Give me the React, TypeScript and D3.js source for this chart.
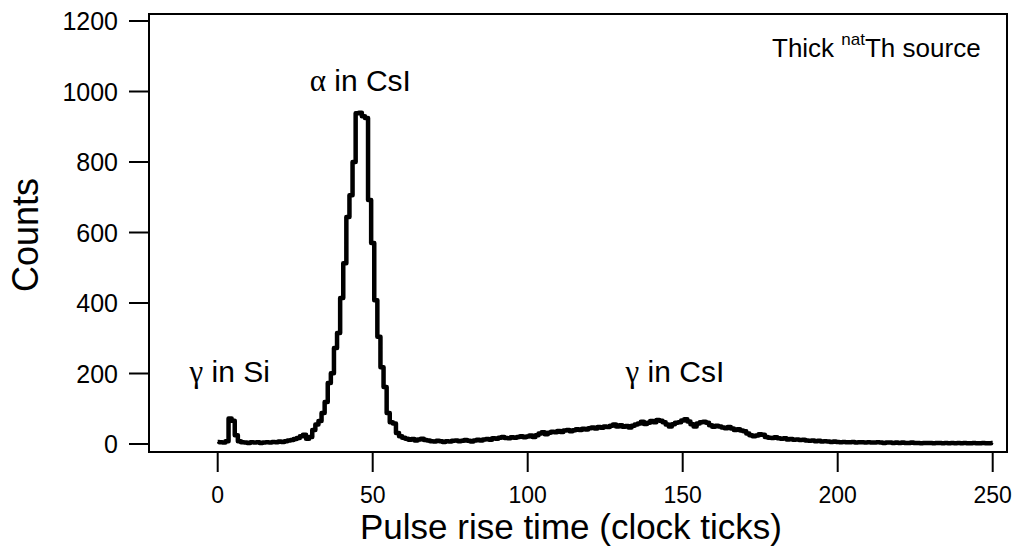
import React from "react";
import * as d3 from "d3";

// Pulse rise time bins (clock ticks), one per tick, 0..250
const counts: number[] = [
  // 0-9
  6, 5, 4, 8, 72, 66, 25, 8, 5, 4,
  // 10-19
  3, 5, 4, 5, 3, 4, 5, 4, 6, 5,
  // 20-29
  7, 6, 8, 10, 11, 14, 17, 22, 26, 15,
  // 30-39
  20, 40, 55, 65, 88, 119, 173, 201, 272, 315,
  // 40-49
  414, 513, 644, 706, 800, 938, 940, 930, 925, 692,
  // 50-59
  570, 408, 304, 218, 162, 88, 62, 58, 31, 22,
  // 60-69
  18, 15, 12, 14, 10, 13, 15, 11, 10, 8,
  // 70-79
  7, 9, 8, 6, 8, 7, 9, 10, 8, 9,
  // 80-89
  11, 9, 7, 10, 12, 10, 13, 14, 12, 16,
  // 90-99
  15, 18, 20, 17, 16, 19, 18, 20, 22, 19,
  // 100-109
  21, 24, 20, 25, 30, 33, 28, 32, 35, 33,
  // 110-119
  37, 34, 38, 40, 36, 39, 42, 40, 43, 41,
  // 120-129
  45, 47, 44, 48, 46, 50, 48, 52, 55, 50,
  // 130-139
  53, 49, 51, 47, 52, 55, 58, 63, 57, 60,
  // 140-149
  65, 62, 68, 66, 62, 55, 50, 56, 60, 62,
  // 150-159
  67, 70, 64, 56, 50, 58, 62, 63, 60, 53,
  // 160-169
  49, 52, 50, 47, 45, 48, 44, 40, 42, 38,
  // 170-179
  36, 30, 25, 22, 24, 28, 26, 20, 18, 17,
  // 180-189
  19, 16, 15, 16, 13, 14, 12, 13, 11, 12,
  // 190-199
  10, 9, 10, 8, 9, 7, 8, 7, 6, 7,
  // 200-209
  6, 5, 6, 5, 5, 6, 4, 5, 5, 4,
  // 210-219
  5, 4, 4, 5, 4, 3, 4, 4, 3, 4,
  // 220-229
  3, 4, 3, 3, 4, 3, 3, 2, 3, 3,
  // 230-239
  3, 2, 3, 3, 2, 3, 2, 3, 2, 3,
  // 240-250
  2, 3, 2, 2, 3, 2, 2, 3, 2, 2, 3,
];

const xTicks: number[] = [0, 50, 100, 150, 200, 250];
const yTicks: number[] = [0, 200, 400, 600, 800, 1000, 1200];

const annotations = [
  { greek: "α", rest: " in CsI", x: 46, y: 1001 },
  { greek: "γ", rest: " in Si", x: 3.9, y: 177 },
  { greek: "γ", rest: " in CsI", x: 147.5, y: 177 },
];

const W = 1018;
const H = 547;
const box = { left: 149, right: 1007, top: 14, bottom: 452 };

export default function App() {
  const x = d3.scaleLinear().domain([0, 250]).range([217.7, 992.7]);
  const y = d3.scaleLinear().domain([0, 1200]).range([444, 21]);

  const line = d3
    .line<number>()
    .x((_, i) => x(i))
    .y((d) => y(d))
    .curve(d3.curveStep);

  const font = "'Liberation Sans', Arial, Helvetica, sans-serif";
  const greekFont = "'Liberation Serif', 'Times New Roman', serif";

  return (
    <svg
      width={W}
      height={H}
      style={{ position: "absolute", left: 0, top: 0, background: "#fff" }}
      fontFamily={font}
    >
      <rect x={0} y={0} width={W} height={H} fill="#fff" />
      <rect
        x={box.left}
        y={box.top}
        width={box.right - box.left}
        height={box.bottom - box.top}
        fill="none"
        stroke="#000"
        strokeWidth={2}
      />
      {/* y axis */}
      {yTicks.map((t) => (
        <g key={"y" + t}>
          <line x1={129} x2={box.left} y1={y(t)} y2={y(t)} stroke="#000" strokeWidth={2} />
          <text x={118} y={y(t)} dy="0.36em" textAnchor="end" fontSize={25}>
            {t}
          </text>
        </g>
      ))}
      {/* x axis */}
      {xTicks.map((t) => (
        <g key={"x" + t}>
          <line x1={x(t)} x2={x(t)} y1={box.bottom} y2={472} stroke="#000" strokeWidth={2} />
          <text x={x(t)} y={503} textAnchor="middle" fontSize={23}>
            {t}
          </text>
        </g>
      ))}
      <text x={571} y={539} textAnchor="middle" fontSize={35}>
        Pulse rise time (clock ticks)
      </text>
      <text
        transform={`translate(38,235) rotate(-90)`}
        textAnchor="middle"
        fontSize={36}
      >
        Counts
      </text>
      <path d={line(counts) || ""} fill="none" stroke="#000" strokeWidth={4.5} strokeLinejoin="round" />
      {annotations.map((a, i) => (
        <text key={i} x={x(a.x)} y={y(a.y)} textAnchor="middle" fontSize={30}>
          <tspan fontFamily={greekFont} fontSize={31}>{a.greek}</tspan>
          {a.rest}
        </text>
      ))}
      <text x={772} y={57} fontSize={26}>
        Thick <tspan dy={-12} fontSize={17}>nat</tspan>
        <tspan dy={12}>Th source</tspan>
      </text>
    </svg>
  );
}
